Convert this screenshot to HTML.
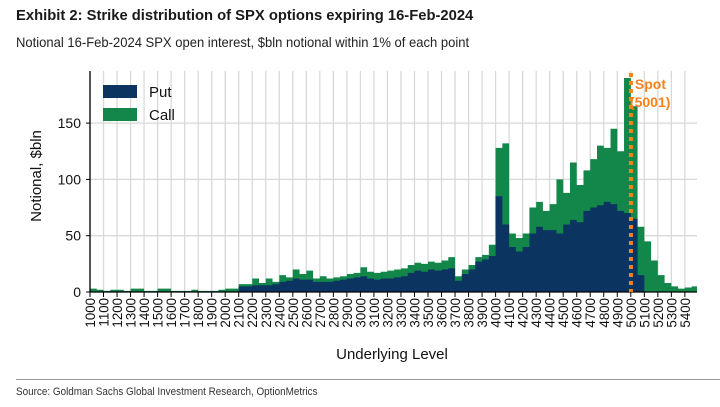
<!DOCTYPE html>
<html><head><meta charset="utf-8"><style>
body{margin:0;background:#fff;width:720px;height:407px;overflow:hidden;font-family:"Liberation Sans",sans-serif}
.t{position:absolute;white-space:nowrap;transform-origin:0 0}
</style></head><body>
<div class="t" style="left:16px;top:7px;font:bold 15px 'Liberation Sans',sans-serif;color:#1a1a1a;transform:scaleX(0.985)">Exhibit 2: Strike distribution of SPX options expiring 16-Feb-2024</div>
<div class="t" style="left:16px;top:34px;font:14px 'Liberation Sans',sans-serif;color:#222;transform:scaleX(0.93)">Notional 16-Feb-2024 SPX open interest, $bln notional within 1% of each point</div>
<div style="position:absolute;left:16px;top:379px;width:704px;height:1px;background:#999"></div>
<div class="t" style="left:16px;top:386px;font:11px 'Liberation Sans',sans-serif;color:#333;transform:scaleX(0.9)">Source: Goldman Sachs Global Investment Research, OptionMetrics</div>
<svg id="c" width="720" height="407" style="position:absolute;left:0;top:0"></svg>
<script>
const strikes=[];for(let s=1000;s<=5450;s+=50)strikes.push(s);
const totals=[3,2,1,2,2,1,3,3,1,1,3,3,1,1,1,2,1,1,1,2,3,3,
7,7,12,8,12,9,15,13,20,16,19,12,14,12,13,14,16,17,
22,18,17,18,19,20,21,24,26,25,27,26,28,31,14,20,24,31,33,42,
128,132,52,48,52,75,80,72,78,100,88,115,95,108,118,130,128,145,125,190,
165,58,45,28,15,8,5,3,4,5];
const puts=[0.5,0.5,0.5,0.5,0.5,0.5,0.5,0.5,0.5,0.5,0.5,0.5,0.5,0.5,0.5,0.5,0.5,0.5,0.5,0.5,0.5,0.5,
5,5,6,6,6,7,9,10,12,11,11,9,9,9,10,11,12,13,
14,12,11,12,12,13,14,17,19,18,20,19,20,21,10,16,20,27,29,32,
85,60,40,36,40,52,58,55,55,52,60,64,62,72,75,77,80,78,72,70,
65,15,0,0,0,0,0,0,0,0];
const yTicks=[0,50,100,150];
const xTicks=[];for(let s=1000;s<=5400;s+=100)xTicks.push(s);
const spot=5001;
const NS="http://www.w3.org/2000/svg",svg=document.getElementById('c');
const X=v=>90+(v-1000)*0.1352, Y=v=>292-v*1.126;
function el(t,a,txt){const e=document.createElementNS(NS,t);for(const k in a)e.setAttribute(k,a[k]);if(txt!==undefined)e.textContent=txt;svg.appendChild(e);return e;}
xTicks.forEach(s=>{const g=el('line',{x1:X(s),x2:X(s),y1:71,y2:292,stroke:'#d9d9d9','stroke-width':1.3});

});
yTicks.slice(1).forEach(v=>{const g=el('line',{x1:90,x2:697,y1:Y(v),y2:Y(v),stroke:'#d9d9d9','stroke-width':1.3});

});
function step(arr){let d='M'+X(strikes[0])+','+Y(0);arr.forEach((v,i)=>{const x0=X(strikes[i]),x1=i<arr.length-1?X(strikes[i+1]):697;d+=' L'+x0+','+Y(v)+' L'+x1+','+Y(v);});d+=' L697,'+Y(0)+'Z';return d;}
const ca=el('path',{d:step(totals),fill:'#13874a'});


const pa=el('path',{d:step(puts),fill:'#0b3560'});


const ya=el('line',{x1:90,x2:90,y1:71,y2:292,stroke:'#000','stroke-width':1.3});


const xa=el('line',{x1:90,x2:697,y1:292,y2:292,stroke:'#000','stroke-width':1.3});


yTicks.forEach(v=>{el('line',{x1:86,x2:90,y1:Y(v),y2:Y(v),stroke:'#000'});
const t=el('text',{x:81,y:Y(v)+5,'text-anchor':'end','font-size':14,fill:'#111'},v);

});
xTicks.forEach(s=>{el('line',{x1:X(s),x2:X(s),y1:292,y2:297,stroke:'#000'});
const t=el('text',{x:0,y:0,'text-anchor':'end','font-size':14,fill:'#111',transform:`translate(${X(s)+5},298) rotate(-90) scale(0.95,1)`},s);

});
const xt=el('text',{x:392,y:359,'text-anchor':'middle','font-size':15,fill:'#111'},'Underlying Level');


const yt=el('text',{x:0,y:0,'text-anchor':'middle','font-size':15,fill:'#111',transform:'translate(41,176) rotate(-90)'},'Notional, $bln');


const sl=el('line',{x1:X(spot),x2:X(spot),y1:73,y2:292,stroke:'#f5821f','stroke-width':4,'stroke-dasharray':'4,4'});


const s1=el('text',{x:X(spot)+4,y:89,'font-size':14,'font-weight':'bold',fill:'#f5821f'},'Spot');


const s2=el('text',{x:X(spot)-1,y:107,'font-size':14,'font-weight':'bold',fill:'#f5821f'},'(5001)');


const lp=el('rect',{x:103,y:85,width:34,height:13,fill:'#0b3560'});


const lpt=el('text',{x:149,y:97,'font-size':15,fill:'#111'},'Put');


const lc=el('rect',{x:103,y:108,width:34,height:13,fill:'#13874a'});


const lct=el('text',{x:149,y:120,'font-size':15,fill:'#111'},'Call');


</script>
</body></html>
